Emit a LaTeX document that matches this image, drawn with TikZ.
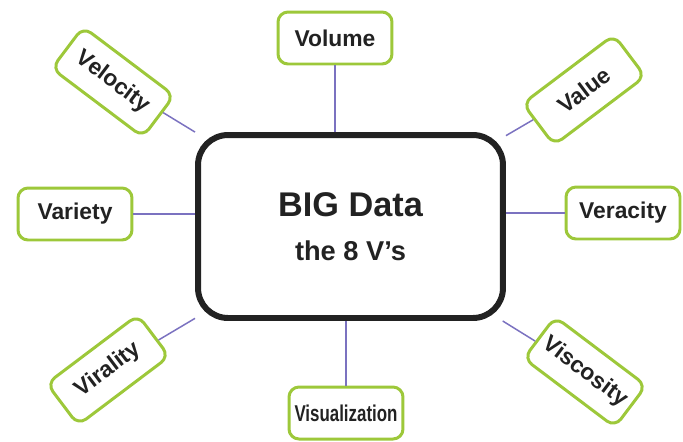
\documentclass[tikz,border=0pt]{standalone}
\usepackage{fontspec}
\setmainfont{Liberation Sans}
\usepackage{xcolor}

\definecolor{vgreen}{HTML}{9DC83A}
\definecolor{vlink}{HTML}{7B72C0}
\definecolor{vtext}{HTML}{222222}

\tikzset{
  vbox/.style={rectangle, rounded corners=0.2cm, draw=vgreen, line width=1.7pt,
    fill=white, minimum width=2.28cm, minimum height=1.04cm, text=vtext,
    font=\fontsize{13}{15}\selectfont\bfseries, inner sep=2pt},
  bigbox/.style={rectangle, rounded corners=0.6cm, draw=vtext, line width=3.4pt,
    fill=white, minimum width=6.1cm, minimum height=3.66cm, text=vtext,
    align=center, font=\fontsize{15.5}{25}\selectfont\bfseries},
  link/.style={draw=vlink, line width=0.85pt}
}

\begin{document}
\begin{tikzpicture}[x=0.02cm, y=-0.02cm]
            \useasboundingbox (0, 0) rectangle (683, 441);

            % centre
            \node[bigbox] (big) at (350.5, 226.5) {{\fontsize{19.5}{25}\selectfont BIG Data}\\the 8 V's};

            % straight ones
            \node[vbox] (volume) at (335, 38) {Volume};
            \node[vbox] (variety) at (75, 214) {Variety};
            \node[vbox] (veracity) at (623, 213) {Veracity};
            \node[vbox] (visual) at (346, 413) {\scalebox{0.74}[1]{Visualization}};

            % tilted ones
            \node[vbox, rotate=-37] (velocity) at (113, 82) {Velocity};
            \node[vbox, rotate=37] (value) at (584, 90) {Value};
            \node[vbox, rotate=37] (virality) at (108, 370) {Virality};
            \node[vbox, rotate=-37] (viscosity) at (585, 372) {Viscosity};

            \draw[link] (volume) -- (volume |- big.north);
            \draw[link] (visual) -- (visual |- big.south);
            \draw[link] (variety) -- (variety -| big.west);
            \draw[link] (veracity) -- (veracity -| big.east);
            \draw[link] (velocity) -- (big);
            \draw[link] (value) -- (big);
            \draw[link] (virality) -- (big);
            \draw[link] (viscosity) -- (big);

        \end{tikzpicture}
\end{document}
